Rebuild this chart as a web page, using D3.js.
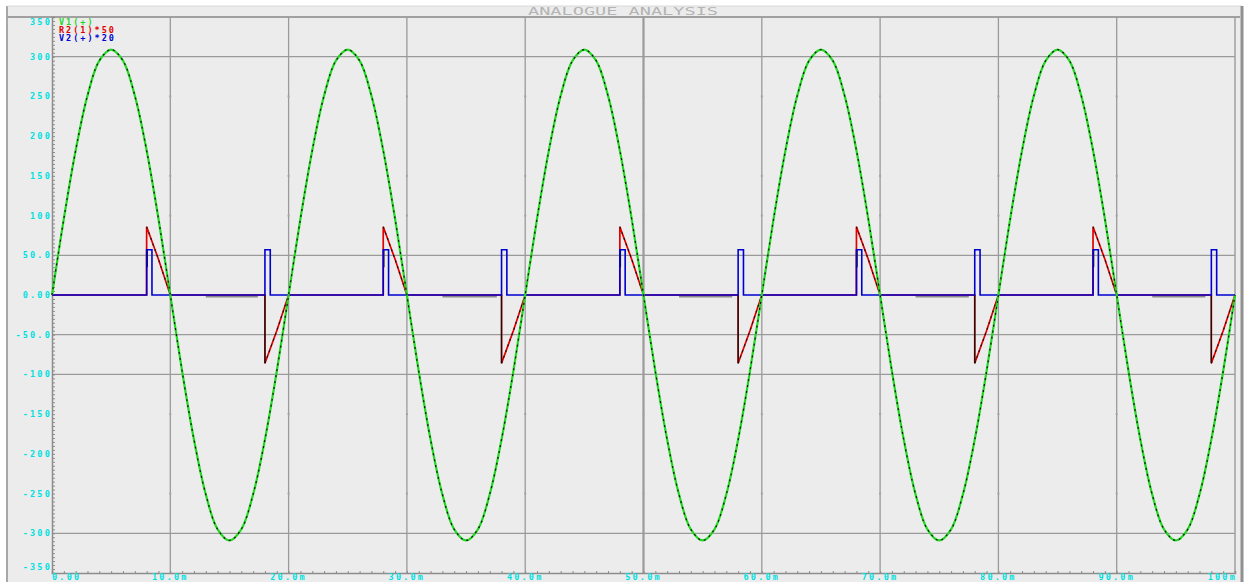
<!DOCTYPE html>
<html>
<head>
<meta charset="utf-8">
<script src="https://cdn.jsdelivr.net/npm/d3@7"></script>
<style>
  body { margin: 0; background: #fff; }
  svg { display: block; }
</style>
</head>
<body>
<svg width="1248" height="582"></svg>
<script>
// V1(+) sampled every 1 ms, 0..100 ms
const v1 = [
  0, 96, 182, 251, 295, 309, 295, 251, 182, 96, 0, -96, -182, -251, -295, -309, -295, -251, -182, -96,
  0, 96, 182, 251, 295, 309, 295, 251, 182, 96, 0, -96, -182, -251, -295, -309, -295, -251, -182, -96,
  0, 96, 182, 251, 295, 309, 295, 251, 182, 96, 0, -96, -182, -251, -295, -309, -295, -251, -182, -96,
  0, 96, 182, 251, 295, 309, 295, 251, 182, 96, 0, -96, -182, -251, -295, -309, -295, -251, -182, -96,
  0, 96, 182, 251, 295, 309, 295, 251, 182, 96, 0, -96, -182, -251, -295, -309, -295, -251, -182, -96,
  0
];
const stepMs = 1;

// firing instants (ms) of the thyristors
const firePos = [8, 28, 48, 68, 88];
const fireNeg = [18, 38, 58, 78, 98];
// R2(1)*50 : value at firing, 1 ms later, and at the zero crossing
const r2Shape = [86, 45, 0];
// V2(+)*20 gate pulse
const gateLevel = 57;
const gateWidth = 0.45;
// grey off-state stretches of the black trace (ms)
const offStart = [13, 33, 53, 73, 93];
const offEnd = [17.4, 37.6, 57.5, 77.5, 97.5];

const yTicks = [350, 300, 250, 200, 150, 100, 50, 0, -50, -100, -150, -200, -250, -300, -350];
const yLabels = ["350", "300", "250", "200", "150", "100", "50.0", "0.00", "-50.0", "-100", "-150", "-200", "-250", "-300", "-350"];
const xTicks = [0, 10, 20, 30, 40, 50, 60, 70, 80, 90, 100];
const xLabels = ["0.00", "10.0m", "20.0m", "30.0m", "40.0m", "50.0m", "60.0m", "70.0m", "80.0m", "90.0m", "100m"];
const hGrid = [300, 50, -50, -100, -300];
const dotLevels = [250, 150, 100, -150, -250];

const legendNames = ["V1(+)", "R2(1)*50", "V2(+)*20"];
const legendColors = ["#22d822", "#e00000", "#0000d0"];

const svg = d3.select("svg");
const area = { left: 52, right: 1235, top: 17, bottom: 573 };

const x = d3.scaleLinear().domain([0, 100]).range([area.left, area.right]);
const y = d3.scaleLinear().domain([-350, 350]).range([area.bottom, area.top]);

// frame
svg.append("rect").attr("x", 7).attr("y", 6).attr("width", 1235).attr("height", 576).attr("fill", "#ececec");
svg.append("line").attr("x1", 7).attr("x2", 7).attr("y1", 6).attr("y2", 582).attr("stroke", "#a8a8a8").attr("stroke-width", 2);
svg.append("line").attr("x1", 7).attr("x2", 1242).attr("y1", 6).attr("y2", 6).attr("stroke", "#d8d8d8").attr("stroke-width", 1);
svg.append("line").attr("x1", 7).attr("x2", 1240).attr("y1", 17).attr("y2", 17).attr("stroke", "#a0a0a0").attr("stroke-width", 2);
svg.append("line").attr("x1", 1242).attr("x2", 1242).attr("y1", 6).attr("y2", 582).attr("stroke", "#909090").attr("stroke-width", 3);
svg.append("line").attr("x1", area.right).attr("x2", area.right).attr("y1", area.top).attr("y2", area.bottom).attr("stroke", "#a0a0a0").attr("stroke-width", 1.5);

svg.append("text")
  .attr("x", 528).attr("y", 15)
  .attr("textLength", 190).attr("lengthAdjust", "spacingAndGlyphs")
  .style("font-family", "DejaVu Sans Mono").style("font-size", "10px")
  .attr("fill", "#b4b4b4")
  .text("ANALOGUE ANALYSIS");

// grid
svg.append("g").selectAll("line").data(xTicks.slice(1, -1)).enter().append("line")
  .attr("x1", d => x(d)).attr("x2", d => x(d))
  .attr("y1", area.top).attr("y2", area.bottom)
  .attr("stroke", "#9a9a9a")
  .attr("stroke-width", d => d === 50 ? 2.2 : 1.3);

svg.append("g").selectAll("line").data(hGrid).enter().append("line")
  .attr("x1", area.left).attr("x2", area.right)
  .attr("y1", d => y(d)).attr("y2", d => y(d))
  .attr("stroke", "#9a9a9a").attr("stroke-width", 1.3);

// minor grid dots on the vertical lines
const dots = [];
xTicks.slice(1, -1).forEach(t => dotLevels.forEach(v => dots.push([t, v])));
svg.append("g").selectAll("rect").data(dots).enter().append("rect")
  .attr("x", d => x(d[0]) - 1).attr("y", d => y(d[1]) - 1)
  .attr("width", 2).attr("height", 2).attr("fill", "#a4a4a4");

// axes with minor ticks
const axY = svg.append("g").attr("transform", `translate(${area.left},0)`)
  .call(d3.axisRight(y).tickValues(d3.range(-350, 351, 5)).tickSize(3).tickFormat(""));
const axX = svg.append("g").attr("transform", `translate(0,${area.bottom})`)
  .call(d3.axisTop(x).tickValues(d3.range(0, 101, 1)).tickSize(2).tickFormat(""));
[axY, axX].forEach(g => {
  g.selectAll("path").attr("stroke", "#8c8c8c").attr("stroke-width", 1.5);
  g.selectAll("line").attr("stroke", "#8c8c8c");
});

const labelFont = g => g.style("font-family", "DejaVu Sans Mono").style("font-size", "8.5px")
  .style("font-weight", "bold").style("letter-spacing", "2.2px").attr("fill", "#00e0e0");

svg.append("g").selectAll("text").data(yTicks).enter().append("text")
  .attr("x", 52)
  .attr("y", d => Math.min(Math.max(y(d), 22), 567) + 3)
  .attr("text-anchor", "end")
  .text((d, i) => yLabels[i])
  .call(labelFont);

svg.append("g").selectAll("text").data(xTicks).enter().append("text")
  .attr("x", (d, i) => i === xTicks.length - 1 ? x(d) + 2 : x(d))
  .attr("y", 580)
  .attr("text-anchor", (d, i) => i === 0 ? "start" : (i === xTicks.length - 1 ? "end" : "middle"))
  .text((d, i) => xLabels[i])
  .call(labelFont);

// series
const v1Pts = v1.map((v, i) => [i * stepMs, v]);

const r2Pts = [[0, 0]];
const gatePts = [[0, 0]];
const fires = firePos.map(t => [t, 1]).concat(fireNeg.map(t => [t, -1])).sort((a, b) => a[0] - b[0]);
fires.forEach(([t, s]) => {
  r2Pts.push([t, 0], [t, s * r2Shape[0]], [t + 1, s * r2Shape[1]], [t + 2, s * r2Shape[2]]);
  gatePts.push([t, 0], [t, gateLevel], [t + gateWidth, gateLevel], [t + gateWidth, 0]);
});
r2Pts.push([100, 0]);
gatePts.push([100, 0]);

const smooth = d3.line().x(d => x(d[0])).y(d => y(d[1])).curve(d3.curveCatmullRom);
const straight = d3.line().x(d => x(d[0])).y(d => y(d[1]));

const plot = svg.append("g");

// grey off-state stretches
plot.selectAll(".off").data(offStart).enter().append("line")
  .attr("x1", d => x(d)).attr("x2", (d, i) => x(offEnd[i]))
  .attr("y1", y(0) + 1.5).attr("y2", y(0) + 1.5)
  .attr("stroke", "#8a8a8a").attr("stroke-width", 2);

plot.append("path").attr("d", straight(r2Pts)).attr("fill", "none")
  .attr("stroke", legendColors[1]).attr("stroke-width", 1.7);

// black trace on the red ramps and the jumps
fires.forEach(([t, s]) => {
  const ramp = [[t, s * r2Shape[0]], [t + 1, s * r2Shape[1]], [t + 2, 0]];
  plot.append("path").attr("d", straight(ramp)).attr("fill", "none")
    .attr("stroke", "#111").attr("stroke-width", 1.1).attr("stroke-dasharray", "2,4");
  const seg = s < 0 ? [[t, 0], [t, -r2Shape[0]]] : [[t + 0.05, gateLevel], [t + 0.05, 35]];
  plot.append("path").attr("d", straight(seg)).attr("fill", "none")
    .attr("stroke", "#111").attr("stroke-width", 1.3);
});

plot.append("path").attr("d", straight(gatePts)).attr("fill", "none")
  .attr("stroke", legendColors[2]).attr("stroke-width", 1.6);

plot.append("path").attr("d", smooth(v1Pts)).attr("fill", "none")
  .attr("stroke", legendColors[0]).attr("stroke-width", 2.2);
plot.append("path").attr("d", smooth(v1Pts)).attr("fill", "none")
  .attr("stroke", "#111").attr("stroke-width", 1.2).attr("stroke-dasharray", "2,4");

// legend
svg.append("g").selectAll("text").data(legendNames).enter().append("text")
  .attr("x", 59).attr("y", (d, i) => 25 + i * 8)
  .text(d => d)
  .attr("fill", (d, i) => legendColors[i])
  .call(g => g.style("font-family", "DejaVu Sans Mono").style("font-size", "8.5px")
    .style("font-weight", "bold").style("letter-spacing", "2px"));
</script>
</body>
</html>
